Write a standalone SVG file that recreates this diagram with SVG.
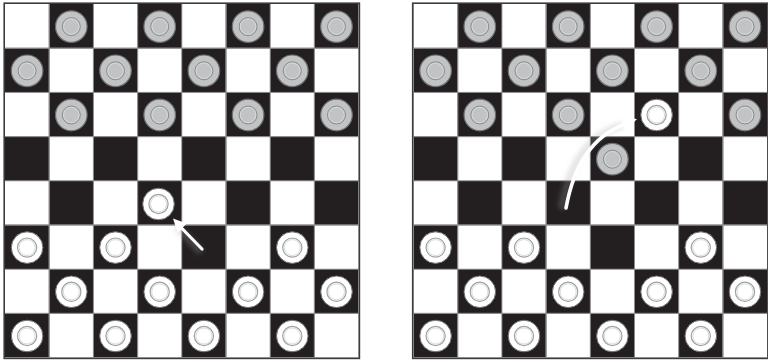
<svg xmlns="http://www.w3.org/2000/svg" xmlns:xlink="http://www.w3.org/1999/xlink" width="768" height="361" viewBox="0 0 768 361">
<style>
.board{fill:url(#checker)}
.grid{fill:none;stroke:#8c8c8c;stroke-width:0.9}
.frame{fill:none;stroke:#3c3c3c;stroke-width:1.6}
.arrow{fill:none;stroke:#ffffff;stroke-linecap:round}
.head{fill:#ffffff}
.shadow{fill:none;stroke:#a0a0a0;stroke-opacity:0.3;stroke-linecap:round}
</style>
<defs>
<pattern id="checker" x="0" y="0" width="88.4" height="88.4" patternUnits="userSpaceOnUse">
<rect x="0" y="0" width="88.4" height="88.4" fill="#ffffff"/>
<rect x="44.2" y="0" width="44.2" height="44.2" fill="#231f20"/>
<rect x="0" y="44.2" width="44.2" height="44.2" fill="#231f20"/>
</pattern>
<path id="gridlines" d="M44.2 0V353.6M88.4 0V353.6M132.6 0V353.6M176.8 0V353.6M221 0V353.6M265.2 0V353.6M309.4 0V353.6M0 44.2H353.6M0 88.4H353.6M0 132.6H353.6M0 176.8H353.6M0 221H353.6M0 265.2H353.6M0 309.4H353.6"/>
<g id="wp">
<circle r="15.8" fill="#ffffff" stroke="#6d6e71" stroke-width="1"/>
<circle r="9.6" fill="none" stroke="#9fa1a4" stroke-width="1.2"/>
<circle r="8" fill="none" stroke="#d2d2d2" stroke-width="0.8"/>
</g>
<g id="gp">
<circle r="15.8" fill="#c2c3c5" stroke="#6d6e71" stroke-width="1.2"/>
<circle r="9" fill="none" stroke="#898b8d" stroke-width="1"/>
<circle r="7.7" fill="none" stroke="#e0e0e0" stroke-width="0.7"/>
</g>
<filter id="blur" x="-50%" y="-50%" width="200%" height="200%">
<feGaussianBlur stdDeviation="2.5"/>
</filter>
</defs>

<g id="board-left" transform="translate(5,4)">
<rect class="board" x="0" y="0" width="353.6" height="353.6"/>
<use xlink:href="#gridlines" class="grid"/>
<rect class="frame" x="-0.8" y="-0.8" width="355.2" height="355.2"/>
<g id="left-pieces">
<g id="L-g-0-1"><use xlink:href="#gp" x="66.3" y="22.6"/></g>
<g id="L-g-0-3"><use xlink:href="#gp" x="154.7" y="22.6"/></g>
<g id="L-g-0-5"><use xlink:href="#gp" x="243.1" y="22.6"/></g>
<g id="L-g-0-7"><use xlink:href="#gp" x="331.5" y="22.6"/></g>
<g id="L-g-1-0"><use xlink:href="#gp" x="22.1" y="66.8"/></g>
<g id="L-g-1-2"><use xlink:href="#gp" x="110.5" y="66.8"/></g>
<g id="L-g-1-4"><use xlink:href="#gp" x="198.9" y="66.8"/></g>
<g id="L-g-1-6"><use xlink:href="#gp" x="287.3" y="66.8"/></g>
<g id="L-g-2-1"><use xlink:href="#gp" x="66.3" y="111"/></g>
<g id="L-g-2-3"><use xlink:href="#gp" x="154.7" y="111"/></g>
<g id="L-g-2-5"><use xlink:href="#gp" x="243.1" y="111"/></g>
<g id="L-g-2-7"><use xlink:href="#gp" x="331.5" y="111"/></g>
<g id="L-w-4-3"><use xlink:href="#wp" x="153.5" y="200"/></g>
<g id="L-w-5-0"><use xlink:href="#wp" x="22.1" y="243.6"/></g>
<g id="L-w-5-2"><use xlink:href="#wp" x="110.5" y="243.6"/></g>
<g id="L-w-5-6"><use xlink:href="#wp" x="287.3" y="243.6"/></g>
<g id="L-w-6-1"><use xlink:href="#wp" x="66.3" y="287.8"/></g>
<g id="L-w-6-3"><use xlink:href="#wp" x="154.7" y="287.8"/></g>
<g id="L-w-6-5"><use xlink:href="#wp" x="243.1" y="287.8"/></g>
<g id="L-w-6-7"><use xlink:href="#wp" x="331.5" y="287.8"/></g>
<g id="L-w-7-0"><use xlink:href="#wp" x="22.1" y="332"/></g>
<g id="L-w-7-2"><use xlink:href="#wp" x="110.5" y="332"/></g>
<g id="L-w-7-4"><use xlink:href="#wp" x="198.9" y="332"/></g>
<g id="L-w-7-6"><use xlink:href="#wp" x="287.3" y="332"/></g>
</g>
</g>

<g id="board-right" transform="translate(413.5,4)">
<rect class="board" x="0" y="0" width="353.6" height="353.6"/>
<use xlink:href="#gridlines" class="grid"/>
<rect class="frame" x="-0.8" y="-0.8" width="355.2" height="355.2"/>
<g id="right-pieces">
<g id="R-g-0-1"><use xlink:href="#gp" x="66.3" y="22.6"/></g>
<g id="R-g-0-3"><use xlink:href="#gp" x="154.7" y="22.6"/></g>
<g id="R-g-0-5"><use xlink:href="#gp" x="243.1" y="22.6"/></g>
<g id="R-g-0-7"><use xlink:href="#gp" x="331.5" y="22.6"/></g>
<g id="R-g-1-0"><use xlink:href="#gp" x="22.1" y="66.8"/></g>
<g id="R-g-1-2"><use xlink:href="#gp" x="110.5" y="66.8"/></g>
<g id="R-g-1-4"><use xlink:href="#gp" x="198.9" y="66.8"/></g>
<g id="R-g-1-6"><use xlink:href="#gp" x="287.3" y="66.8"/></g>
<g id="R-g-2-1"><use xlink:href="#gp" x="66.3" y="111"/></g>
<g id="R-g-2-3"><use xlink:href="#gp" x="154.7" y="111"/></g>
<g id="R-w-2-5"><use xlink:href="#wp" x="243.1" y="111"/></g>
<g id="R-g-2-7"><use xlink:href="#gp" x="331.5" y="111"/></g>
<g id="R-g-3-4"><use xlink:href="#gp" x="198.9" y="155.2"/></g>
<g id="R-w-5-0"><use xlink:href="#wp" x="22.1" y="243.6"/></g>
<g id="R-w-5-2"><use xlink:href="#wp" x="110.5" y="243.6"/></g>
<g id="R-w-5-6"><use xlink:href="#wp" x="287.3" y="243.6"/></g>
<g id="R-w-6-1"><use xlink:href="#wp" x="66.3" y="287.8"/></g>
<g id="R-w-6-3"><use xlink:href="#wp" x="154.7" y="287.8"/></g>
<g id="R-w-6-5"><use xlink:href="#wp" x="243.1" y="287.8"/></g>
<g id="R-w-6-7"><use xlink:href="#wp" x="331.5" y="287.8"/></g>
<g id="R-w-7-0"><use xlink:href="#wp" x="22.1" y="332"/></g>
<g id="R-w-7-2"><use xlink:href="#wp" x="110.5" y="332"/></g>
<g id="R-w-7-4"><use xlink:href="#wp" x="198.9" y="332"/></g>
<g id="R-w-7-6"><use xlink:href="#wp" x="287.3" y="332"/></g>
</g>
</g>

<g id="connectors">
<g id="arrow-left">
<path class="shadow" d="M199 250 L178 228" stroke-width="7" filter="url(#blur)"/>
<path class="arrow" d="M202 249 L182 228.5" stroke-width="3.2"/>
<polygon class="head" points="173,218.5 186.8,223.6 177.6,232.6"/>
</g>
<g id="arrow-right">
<path class="shadow" d="M562 206 Q574 140 620 126" stroke-width="7" filter="url(#blur)"/>
<path class="arrow" d="M566 208 Q578 142 624 124.5" stroke-width="3.6"/>
<polygon class="head" points="637,119 626.2,130.2 621.6,117.6"/>
</g>
</g>
</svg>
